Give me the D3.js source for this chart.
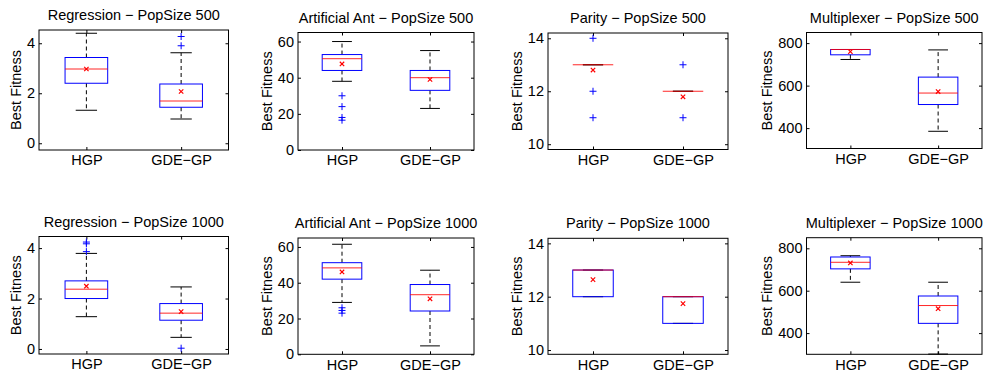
<!DOCTYPE html>
<html>
<head>
<meta charset="utf-8">
<script src="https://cdn.jsdelivr.net/npm/d3@7"></script>
<style>
  body { margin: 0; background: #fff; }
  text { font-family: "Liberation Sans", Arial, Helvetica, sans-serif; fill: #000; }
</style>
</head>
<body>
<div id="chart"></div>
<script>
// groups on the x axis of every panel
const groups = ["HGP", "GDE\u2212GP"];

const titles = [
  "Regression \u2212 PopSize 500", "Artificial Ant \u2212 PopSize 500",
  "Parity \u2212 PopSize 500", "Multiplexer \u2212 PopSize 500",
  "Regression \u2212 PopSize 1000", "Artificial Ant \u2212 PopSize 1000",
  "Parity \u2212 PopSize 1000", "Multiplexer \u2212 PopSize 1000"
];

// y range + tick labels per panel
const yDomains = [[-0.27, 4.53], [0, 65], [9.8, 14.2], [304, 850],
                  [-0.2, 4.46], [0, 65], [9.84, 14.19], [300, 850]];
const yTicks = [[0, 2, 4], [0, 20, 40, 60], [10, 12, 14], [400, 600, 800],
                [0, 2, 4], [0, 20, 40, 60], [10, 12, 14], [400, 600, 800]];

// box stats, two entries (HGP, GDE-GP) per panel, panels in reading order
const whiskerLow  = [1.32, 0.97,  38, 23,  13, 12,  723, 385,   1.28, 0.46,  29, 4.7,  12, 11,  640, 301];
const q1          = [2.40, 1.44,  44, 33,  13, 12,  745, 511,   2.00, 1.14,  42, 24.2, 12, 11,  703, 446];
const median      = [2.97, 1.69,  50.5, 40, 13, 12, 770, 565,   2.37, 1.42,  48.3, 33.3, 13, 12, 734, 530];
const q3          = [3.43, 2.37,  52.8, 44, 13, 12, 770, 640,   2.70, 1.80,  51.2, 39,  13, 12,  759, 575];
const whiskerHigh = [4.40, 3.62,  60, 55,  13, 12,  770, 768,   3.79, 2.46,  61.5, 47, 13, 12,  765, 640];
const means       = [2.97, 2.07,  47.6, 39, 12.8, 11.79, 760, 572, 2.49, 1.48, 46, 31, 12.64, 11.74, 731, 515];
const outliers    = [[], [3.9, 4.27],  [30, 24, 18, 16.5], [],  [14, 12, 11], [13, 11],  [], [],
                     [3.86, 4.17, 4.24], [0.03],  [26, 24.5, 23], [],  [], [],  [], []];

// axes frames (pixels)
const axLeft   = [39, 298, 548, 806.5];
const axRight  = [228.5, 474, 728, 982];
const axTop    = [[30, 32.5, 33, 32.5], [236.5, 238, 238.3, 237.7]];
const axBottom = [[150, 150, 149.5, 148.5], [354, 354.3, 354.3, 354.3]];

const width = 984, height = 376;

const svg = d3.select("#chart").append("svg")
    .attr("width", width)
    .attr("height", height)
    .attr("viewBox", [0, 0, width, height]);

const fontSize = 14.5;

titles.forEach((title, p) => {
  const row = Math.floor(p / 4), col = p % 4;
  const left = axLeft[col], top = axTop[row][col];
  const w = axRight[col] - left, h = axBottom[row][col] - top;

  const g = svg.append("g").attr("transform", `translate(${left},${top})`);

  const x = d3.scaleLinear().domain([0.5, 2.5]).range([0, w]);
  const y = d3.scaleLinear().domain(yDomains[p]).range([h, 0]);

  // ticks on all four sides, pointing in
  const yl = g.append("g")
      .call(d3.axisLeft(y).tickValues(yTicks[p]).tickSize(-3).tickPadding(4)
              .tickFormat(d => String(d)));
  g.append("g").attr("transform", `translate(${w},0)`)
      .call(d3.axisRight(y).tickValues(yTicks[p]).tickSize(-3).tickFormat(""));
  g.append("g").attr("transform", `translate(0,${h})`)
      .call(d3.axisBottom(x).tickValues([1, 2]).tickSize(-3).tickPadding(5)
              .tickFormat((d, i) => groups[i]));
  g.append("g")
      .call(d3.axisTop(x).tickValues([1, 2]).tickSize(-3).tickFormat(""));

  g.selectAll(".domain").remove();
  g.selectAll(".tick line").attr("stroke", "#000");
  g.selectAll(".tick text")
      .attr("font-size", fontSize)
      .attr("font-family", null)
      .attr("fill", "#000");

  g.append("rect")
      .attr("width", w).attr("height", h)
      .attr("fill", "none").attr("stroke", "#000").attr("stroke-width", 1);

  // y label sits left of the widest tick label
  let tickW = 0;
  yl.selectAll("text").each(function () {
    tickW = Math.max(tickW, this.getComputedTextLength());
  });
  g.append("text")
      .attr("transform", `translate(${-(tickW + 4 + 6)},${h / 2}) rotate(-90)`)
      .attr("text-anchor", "middle")
      .attr("font-size", fontSize)
      .text("Best Fitness");

  g.append("text")
      .attr("x", w / 2)
      .attr("y", -10)
      .attr("text-anchor", "middle")
      .attr("font-size", fontSize)
      .text(title);

  const bw = x(1.225) - x(1); // half box width

  groups.forEach((grp, k) => {
    const i = p * 2 + k;
    const cx = x(k + 1);

    // whiskers
    g.append("line")
        .attr("x1", cx).attr("x2", cx)
        .attr("y1", y(q3[i])).attr("y2", y(whiskerHigh[i]))
        .attr("stroke", "#000").attr("stroke-dasharray", "4,3");
    g.append("line")
        .attr("x1", cx).attr("x2", cx)
        .attr("y1", y(q1[i])).attr("y2", y(whiskerLow[i]))
        .attr("stroke", "#000").attr("stroke-dasharray", "4,3");
    [whiskerLow[i], whiskerHigh[i]].forEach(v => {
      g.append("line")
          .attr("x1", cx - bw / 2).attr("x2", cx + bw / 2)
          .attr("y1", y(v)).attr("y2", y(v))
          .attr("stroke", "#000");
    });

    // box
    g.append("rect")
        .attr("x", cx - bw)
        .attr("width", 2 * bw)
        .attr("y", y(q3[i]))
        .attr("height", Math.max(y(q1[i]) - y(q3[i]), 0))
        .attr("fill", "none")
        .attr("stroke", "#0000ff");

    // median
    g.append("line")
        .attr("x1", cx - bw).attr("x2", cx + bw)
        .attr("y1", y(median[i])).attr("y2", y(median[i]))
        .attr("stroke", "#ff0000").attr("stroke-opacity", 0.85);

    // outliers as +
    outliers[i].forEach(v => {
      g.append("path")
          .attr("d", `M${cx - 3.5},${y(v)}h7M${cx},${y(v) - 3.5}v7`)
          .attr("stroke", "#0000ff").attr("fill", "none");
    });

    // mean as x
    const my = y(means[i]);
    g.append("path")
        .attr("d", `M${cx - 2.2},${my - 2.2}l4.4,4.4M${cx - 2.2},${my + 2.2}l4.4,-4.4`)
        .attr("stroke", "#ff0000").attr("stroke-width", 1.2).attr("fill", "none");
  });
});
</script>
</body>
</html>
